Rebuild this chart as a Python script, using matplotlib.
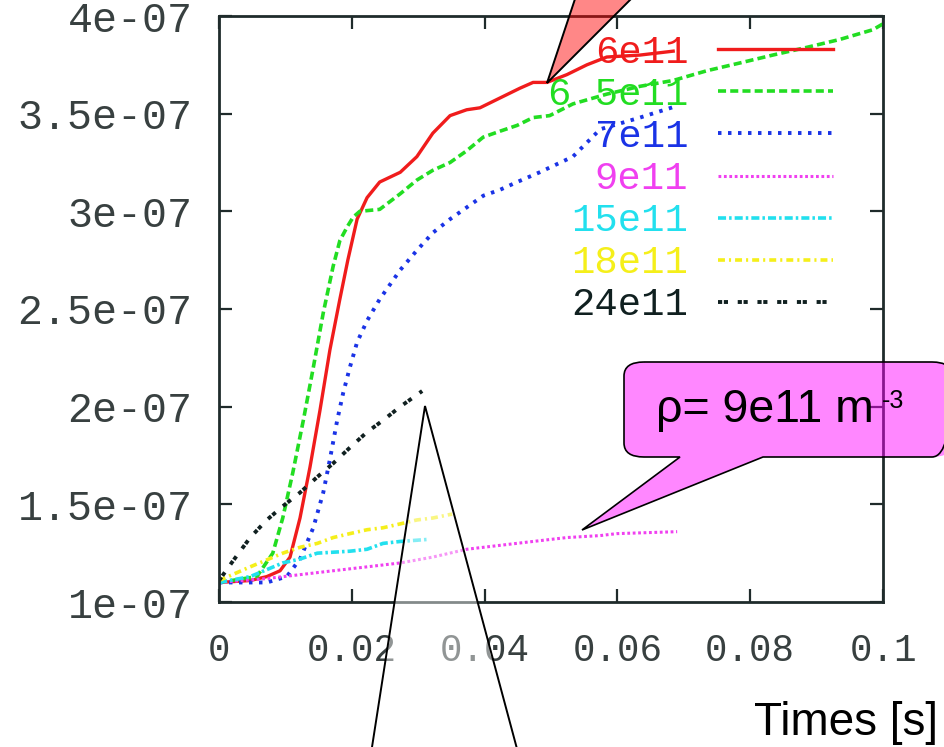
import matplotlib
matplotlib.use('Agg')
import matplotlib.pyplot as plt
from matplotlib.path import Path
from matplotlib.patches import PathPatch
from matplotlib.transforms import Affine2D
from matplotlib.ticker import FuncFormatter

W, H = 944, 747
SCALE = 1e-7

# time [s] and signal (in units of 1e-7) for each density
t_6e11 = [0, 0.0047, 0.0072, 0.0092, 0.0107, 0.0122, 0.0137, 0.0152, 0.0167, 0.0182,
          0.0194, 0.0208, 0.0223, 0.0242, 0.0273, 0.0298, 0.0322, 0.0348, 0.0373, 0.0393,
          0.0423, 0.0453, 0.0473, 0.0494, 0.0524, 0.0554, 0.0584, 0.0634, 0.0684]
s_6e11 = [1.10, 1.11, 1.13, 1.16, 1.23, 1.43, 1.69, 1.98, 2.29, 2.55,
          2.75, 2.96, 3.07, 3.15, 3.20, 3.28, 3.40, 3.49, 3.52, 3.53,
          3.58, 3.63, 3.66, 3.66, 3.70, 3.75, 3.79, 3.80, 3.82]

t_65e11 = [0, 0.0057, 0.0081, 0.0096, 0.0111, 0.0127, 0.0142, 0.0157, 0.0172, 0.0182,
           0.0193, 0.0202, 0.0212, 0.0242, 0.0273, 0.0298, 0.0322, 0.0348, 0.0373, 0.0398,
           0.0423, 0.0449, 0.0473, 0.0498, 0.0533, 0.0584, 0.0634, 0.0684, 0.0735, 0.0785,
           0.0834, 0.0886, 0.0935, 0.0985, 0.1]
s_65e11 = [1.10, 1.13, 1.25, 1.43, 1.66, 1.93, 2.20, 2.48, 2.72, 2.85,
           2.92, 2.97, 3.00, 3.01, 3.09, 3.16, 3.21, 3.25, 3.31, 3.38,
           3.41, 3.44, 3.48, 3.49, 3.55, 3.60, 3.64, 3.67, 3.72, 3.76,
           3.80, 3.84, 3.88, 3.93, 3.96]

t_7e11 = [0, 0.0072, 0.0102, 0.0122, 0.0142, 0.0157, 0.0167, 0.0178, 0.0187, 0.0197,
          0.0208, 0.0223, 0.0242, 0.0273, 0.0298, 0.0322, 0.0348, 0.0373, 0.0398, 0.0423,
          0.0449, 0.0483, 0.0533, 0.0574, 0.0634, 0.0690]
s_7e11 = [1.10, 1.10, 1.13, 1.22, 1.38, 1.56, 1.73, 1.93, 2.07, 2.20,
          2.33, 2.44, 2.55, 2.70, 2.80, 2.89, 2.96, 3.02, 3.08, 3.11,
          3.15, 3.20, 3.28, 3.42, 3.48, 3.54]

t_9e11 = [0, 0.0072, 0.0122, 0.0172, 0.0223, 0.0273, 0.0322, 0.0373, 0.0423, 0.0473,
          0.0524, 0.0574, 0.0599, 0.0690]
s_9e11 = [1.10, 1.12, 1.14, 1.16, 1.18, 1.20, 1.23, 1.27, 1.29, 1.31,
          1.33, 1.34, 1.35, 1.36]

t_15e11 = [0, 0.0047, 0.0096, 0.0122, 0.0148, 0.0197, 0.0223, 0.0247, 0.0273, 0.0313]
s_15e11 = [1.10, 1.13, 1.20, 1.22, 1.25, 1.26, 1.27, 1.30, 1.31, 1.32]

t_18e11 = [0, 0.0047, 0.0096, 0.0122, 0.0148, 0.0172, 0.0197, 0.0223, 0.0247, 0.0273,
           0.0298, 0.0322, 0.0351]
s_18e11 = [1.11, 1.18, 1.25, 1.28, 1.30, 1.33, 1.35, 1.37, 1.38, 1.40,
           1.42, 1.43, 1.45]

t_24e11 = [0, 0.0021, 0.0047, 0.0072, 0.0096, 0.0122, 0.0148, 0.0172, 0.0197, 0.0223,
           0.0247, 0.0273, 0.0306]
s_24e11 = [1.11, 1.21, 1.33, 1.42, 1.49, 1.56, 1.64, 1.71, 1.79, 1.87,
           1.93, 2.00, 2.08]

labels = ['6e11', '6 5e11', '7e11', '9e11', '15e11', '18e11', '24e11']
xticks = [0, 0.02, 0.04, 0.06, 0.08, 0.1]
yticks = [1e-7, 1.5e-7, 2e-7, 2.5e-7, 3e-7, 3.5e-7, 4e-7]

series = [(t_6e11, s_6e11), (t_65e11, s_65e11), (t_7e11, s_7e11), (t_9e11, s_9e11),
          (t_15e11, s_15e11), (t_18e11, s_18e11), (t_24e11, s_24e11)]
colors = ['#f01c1c', '#22dd22', '#1a33e6', '#f040f0', '#22e0ee', '#f5ef1a', '#102020']
styles = ['-', (0, (5.8, 3.0)), (0, (2.5, 4.7)), (0, (2.0, 1.9)),
          (0, (5.8, 2.2, 1.8, 2.2)), (0, (5.0, 2.9, 1.5, 2.9)), (0, (3.0, 1.2, 3.0, 7.0))]
widths = [2.4, 2.6, 2.8, 2.2, 2.6, 2.6, 2.8]

plt.rcParams['lines.scale_dashes'] = False
mono = 'Liberation Mono'
sans = 'Liberation Sans'
axcol = '#1f2b2b'

fig = plt.figure(figsize=(W / 100, H / 100), dpi=100)
ax = fig.add_axes([219 / W, 1 - 602 / H, 664 / W, 586 / H])

for (t, s), lab, c, ls, lw in zip(series, labels, colors, styles, widths):
    ax.plot(t, [v * SCALE for v in s], color=c, linestyle=ls, linewidth=lw, label=lab)

ax.set_xlim(0, 0.1)
ax.set_ylim(1e-7, 4e-7)
ax.set_xticks(xticks)
ax.set_yticks(yticks)
fmt = FuncFormatter(lambda v, p: '%g' % v)
ax.xaxis.set_major_formatter(fmt)
ax.yaxis.set_major_formatter(fmt)
ax.tick_params(direction='in', length=9.5, width=1.6, color=axcol,
               top=True, right=True, labelcolor='#384040')
ax.tick_params(axis='y', pad=19, labelsize=30)
ax.tick_params(axis='x', pad=22, labelsize=27)
for lab in ax.get_xticklabels() + ax.get_yticklabels():
    lab.set_fontfamily(mono)
for sp in ax.spines.values():
    sp.set_color(axcol)
    sp.set_linewidth(2)

leg = ax.legend(loc='upper right', bbox_to_anchor=(0.9247, 0.9675), frameon=False,
                markerfirst=False, labelcolor='linecolor', borderpad=0, borderaxespad=0,
                handlelength=2.95, handletextpad=0.77, labelspacing=0.155,
                prop={'family': mono, 'size': 28})

# callouts drawn in image pixels (y down)
px = Affine2D().scale(1, -1).translate(0, H)

top_tri = Path([(547, 83), (578, -10), (640, -10), (547, 83)],
               [Path.MOVETO, Path.LINETO, Path.LINETO, Path.CLOSEPOLY])
fig.add_artist(PathPatch(top_tri, transform=px, facecolor='#ff0000', alpha=0.47,
                         edgecolor='none', zorder=5))
fig.add_artist(PathPatch(top_tri, transform=px, facecolor='none', edgecolor='black',
                         linewidth=1.4, zorder=6))

low_tri = Path([(370, 760), (425, 406), (520, 760), (370, 760)],
               [Path.MOVETO, Path.LINETO, Path.LINETO, Path.CLOSEPOLY])
fig.add_artist(PathPatch(low_tri, transform=px, facecolor='white', alpha=0.45,
                         edgecolor='none', zorder=5))
fig.add_artist(PathPatch(low_tri, transform=px, facecolor='none', edgecolor='black',
                         linewidth=1.4, zorder=6))

L, R, T, B, rx, ry = 624, 952, 362, 457, 20, 14
verts = [(L + rx, T), (R - rx, T), (R, T), (R, T + ry), (R, B - ry), (R, B), (R - rx, B),
         (763, B), (582, 530), (680, B), (L + rx, B), (L, B), (L, B - ry),
         (L, T + ry), (L, T), (L + rx, T), (L + rx, T)]
codes = [Path.MOVETO, Path.LINETO, Path.CURVE3, Path.CURVE3, Path.LINETO, Path.CURVE3,
         Path.CURVE3, Path.LINETO, Path.LINETO, Path.LINETO, Path.LINETO, Path.CURVE3,
         Path.CURVE3, Path.LINETO, Path.CURVE3, Path.CURVE3, Path.CLOSEPOLY]
bubble = Path(verts, codes)
fig.add_artist(PathPatch(bubble, transform=px, facecolor='#ff00ff', alpha=0.47,
                         edgecolor='none', zorder=5))
fig.add_artist(PathPatch(bubble, transform=px, facecolor='none', edgecolor='black',
                         linewidth=1.2, zorder=6))

fig.text(656 / W, 1 - 422 / H, u'\u03c1= 9e11 m', family=sans, fontsize=33.5,
         va='baseline', ha='left', zorder=7)
fig.text(882 / W, 1 - 408 / H, '-3', family=sans, fontsize=18,
         va='baseline', ha='left', zorder=7)
fig.text(938 / W, 1 - 735 / H, 'Times [s]', family=sans, fontsize=33,
         va='baseline', ha='right')

plt.savefig('out.png', dpi=100)
